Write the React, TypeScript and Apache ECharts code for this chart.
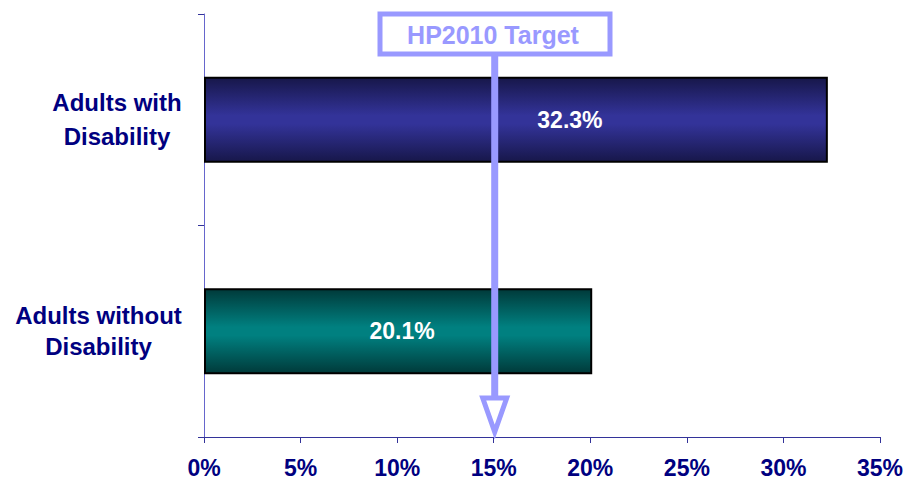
import React, { useEffect, useRef } from "react";
import * as echarts from "echarts";

const categories = ["Adults without\nDisability", "Adults with\nDisability"];
const values = [20.1, 32.3];
const targetValue = 15;
const targetLabel = "HP2010 Target";
const xMin = 0;
const xMax = 35;
const xStep = 5;

const FONT = "'Liberation Sans', Arial, sans-serif";
const NAVY = "#000080";
const LAV = "#9999ff";

export default function App() {
  const ref = useRef<HTMLDivElement>(null);
  useEffect(() => {
    document.body.style.margin = "0";
    const chart = echarts.init(ref.current!, undefined, { renderer: "svg" });
    const gradients = [
      new echarts.graphic.LinearGradient(0, 0, 0, 1, [
        { offset: 0, color: "#003a3a" },
        { offset: 0.45, color: "#008080" },
        { offset: 0.55, color: "#008080" },
        { offset: 1, color: "#003a3a" },
      ]),
      new echarts.graphic.LinearGradient(0, 0, 0, 1, [
        { offset: 0, color: "#17174a" },
        { offset: 0.45, color: "#333399" },
        { offset: 0.55, color: "#333399" },
        { offset: 1, color: "#17174a" },
      ]),
    ];
    const labelOffsets = [[4, 0], [54, 0]];
    chart.setOption({
      animation: false,
      grid: {
        left: 204,
        right: 29,
        top: 14,
        bottom: 52,
        containLabel: false,
        outerBoundsMode: "none",
      },
      xAxis: {
        type: "value",
        min: xMin,
        max: xMax,
        interval: xStep,
        splitLine: { show: false },
        axisLine: { show: true, lineStyle: { color: "#333399", width: 1 } },
        axisTick: { show: true, length: 6, lineStyle: { color: "#333399" } },
        axisLabel: {
          formatter: "{value}%",
          color: NAVY,
          fontWeight: "bold",
          fontSize: 23,
          fontFamily: FONT,
          margin: 19,
        },
      },
      yAxis: {
        type: "category",
        data: categories,
        axisLine: { show: true, lineStyle: { color: "#6666cc", width: 1 } },
        axisTick: { show: true, length: 6, lineStyle: { color: "#333399" } },
        axisLabel: {
          margin: 87,
          formatter: (v: string) =>
            v
              .split("\n")
              .map((line) => (v.indexOf("without") >= 0 ? `{b|${line}}` : `{a|${line}}`))
              .join("\n"),
          rich: {
            a: {
              color: NAVY,
              fontWeight: "bold",
              fontSize: 24,
              fontFamily: FONT,
              lineHeight: 34,
              align: "center",
            },
            b: {
              color: NAVY,
              fontWeight: "bold",
              fontSize: 24,
              fontFamily: FONT,
              lineHeight: 31,
              align: "center",
              padding: [0, 37, 0, 0],
            },
          },
          align: "center",
        },
      },
      series: [
        {
          type: "bar",
          barWidth: 86,
          data: values.map((v, i) => ({
            value: v,
            itemStyle: { color: gradients[i], borderColor: "#000", borderWidth: 2 },
            label: { offset: labelOffsets[i] },
          })),
          label: {
            show: true,
            position: "inside",
            formatter: (p: any) => p.value.toFixed(1) + "%",
            color: "#fff",
            fontWeight: "bold",
            fontSize: 23,
            fontFamily: FONT,
          },
        },
      ],
    });

    const x = chart.convertToPixel({ xAxisIndex: 0 }, targetValue) as number;
    const bottomY = 432;
    const boxW = 230;
    const boxH = 40;
    const boxTop = 14;
    chart.setOption({
      graphic: [
        {
          type: "line",
          shape: { x1: x + 1, y1: boxTop + boxH, x2: x + 1, y2: bottomY - 30 },
          style: { stroke: LAV, lineWidth: 7 },
          z: 100,
        },
        {
          type: "polygon",
          shape: {
            points: [
              [x + 1 - 12, bottomY - 34],
              [x + 1 + 12, bottomY - 34],
              [x + 1, bottomY],
            ],
          },
          style: { fill: "#fff", stroke: LAV, lineWidth: 5, lineJoin: "miter" },
          z: 100,
        },
        {
          type: "rect",
          shape: { x: 380, y: boxTop, width: boxW, height: boxH },
          style: { fill: "#fff", stroke: LAV, lineWidth: 5 },
          z: 101,
        },
        {
          type: "text",
          x: 380 + boxW / 2 - 2,
          y: boxTop + boxH / 2 + 1,
          style: {
            text: targetLabel,
            fill: LAV,
            font: `bold 25px ${FONT}`,
            align: "center",
            verticalAlign: "middle",
          },
          z: 102,
        },
      ],
    });
    return () => chart.dispose();
  }, []);
  return (
    <div
      ref={ref}
      style={{ position: "absolute", left: 0, top: 0, width: 909, height: 489 }}
    />
  );
}
